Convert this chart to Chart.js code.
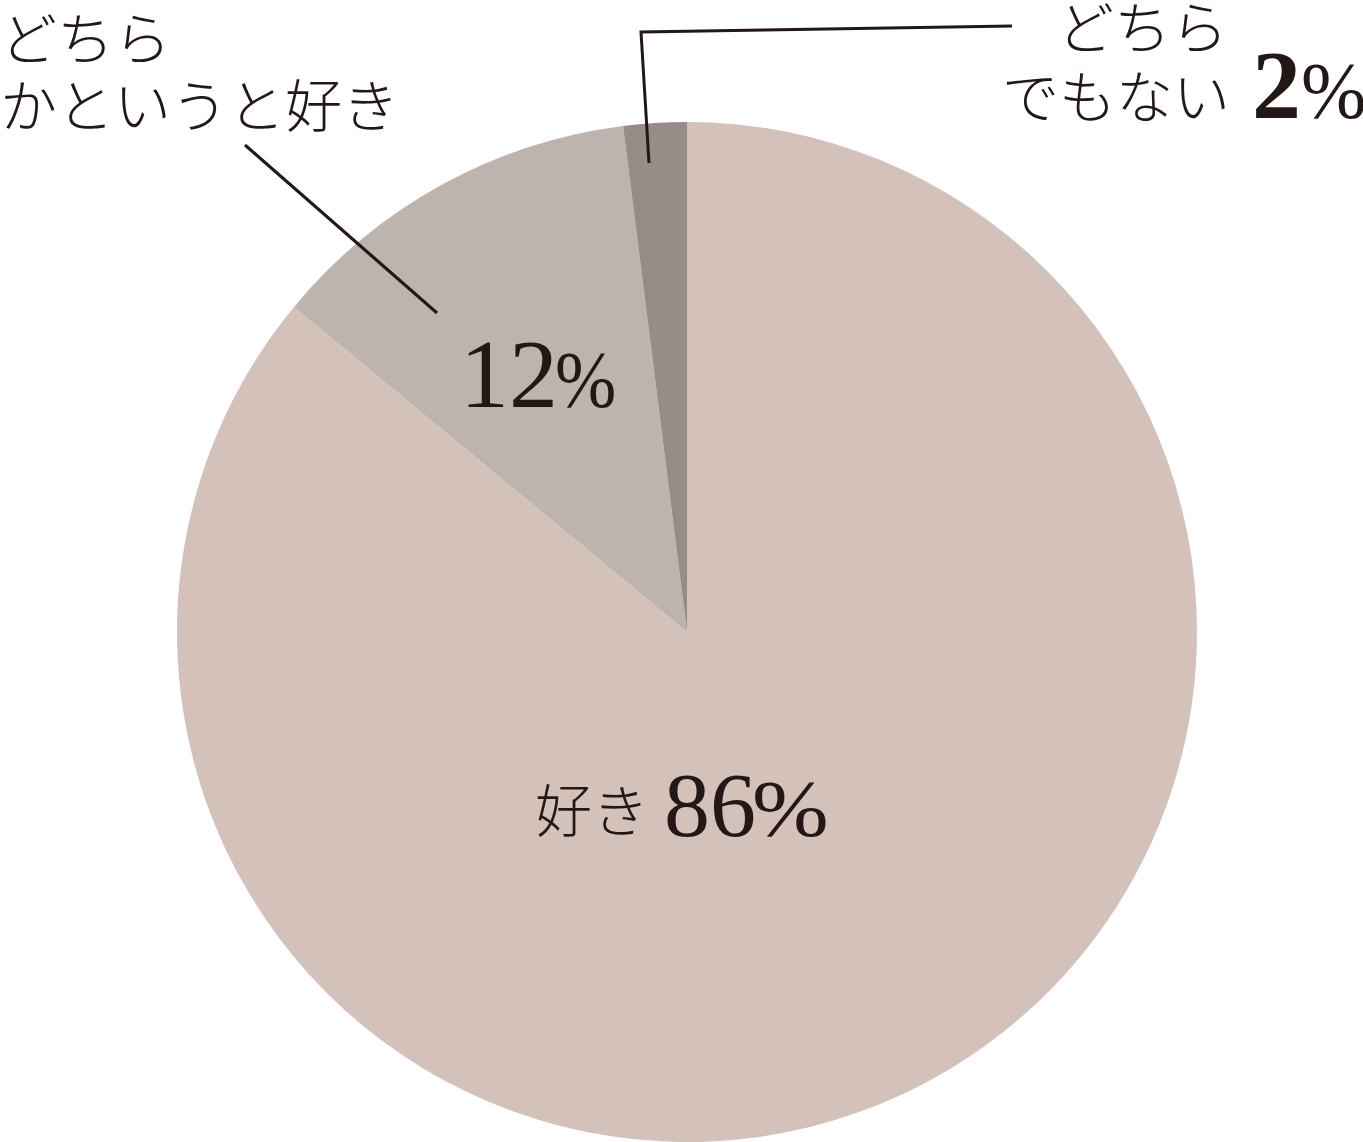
<!DOCTYPE html>
<html>
<head>
<meta charset="utf-8">
<script src="https://cdn.jsdelivr.net/npm/chart.js@4/dist/chart.umd.min.js"></script>
<style>
  html, body { margin: 0; padding: 0; background: #ffffff; }
  #wrap { width: 1363px; height: 1142px; position: relative; }
</style>
</head>
<body>
<div id="wrap"><canvas id="c" width="1363" height="1142"></canvas></div>
<script>
// ---- data ----
const categories = ["好き", "どちらかというと好き", "どちらでもない"];
const values = [86, 12, 2];
const sliceColors = ["#D4C1B9", "#BEB4AE", "#978D88"];

const TEXT = "#231815";
const JP = '"Noto Sans CJK JP", "Noto Sans", sans-serif';
const NUM = '"Liberation Serif", "DejaVu Serif", serif';

function drawNumber(ctx, x, baseline, num, numSize, numWeight, pctSize, pctGap, pctScaleX) {
  ctx.save();
  ctx.textAlign = "left";
  ctx.textBaseline = "alphabetic";
  ctx.font = numWeight + " " + numSize + "px " + NUM;
  ctx.fillText(num, x, baseline);
  const w = ctx.measureText(num).width;
  ctx.font = "normal " + pctSize + "px " + NUM;
  ctx.translate(x + w + pctGap, baseline);
  ctx.scale(pctScaleX, 1);
  ctx.fillText("%", 0, 0);
  ctx.restore();
}

const labelPlugin = {
  id: "labels",
  afterDatasetsDraw(chart) {
    const ctx = chart.ctx;
    ctx.save();
    ctx.fillStyle = TEXT;
    ctx.strokeStyle = TEXT;
    ctx.lineWidth = 3;
    ctx.lineCap = "butt";

    // leader line: どちらかというと好き
    ctx.beginPath();
    ctx.moveTo(245, 145);
    ctx.lineTo(437, 313);
    ctx.stroke();

    // leader line: どちらでもない
    ctx.beginPath();
    ctx.moveTo(649, 163);
    ctx.lineTo(641, 32);
    ctx.lineTo(1012, 26);
    ctx.stroke();

    // top-left label
    ctx.font = "300 57px " + JP;
    ctx.textAlign = "left";
    ctx.textBaseline = "middle";
    ctx.fillText("どちら", 0, 38);
    ctx.fillText("かというと好き", 0, 105);

    // top-right label
    ctx.textAlign = "right";
    ctx.fillText("どちら", 1228, 27);
    ctx.fillText("でもない", 1230, 96);

    // percentages
    drawNumber(ctx, 1252, 118, String(values[2]), 98, "bold", 80, 0, 0.98);
    drawNumber(ctx, 460, 407, String(values[1]), 98, "normal", 80, -3, 0.92);

    // 好き 86%
    ctx.font = "300 57px " + JP;
    ctx.textAlign = "left";
    ctx.textBaseline = "middle";
    ctx.fillText("好き", 535, 810);
    drawNumber(ctx, 664, 836, String(values[0]), 92, "normal", 80, -4, 1.15);

    ctx.restore();
  }
};

new Chart(document.getElementById("c"), {
  type: "pie",
  data: {
    labels: categories,
    datasets: [{
      data: values,
      backgroundColor: sliceColors,
      borderWidth: 0,
      hoverOffset: 0,
      offset: 0
    }]
  },
  options: {
    responsive: false,
    animation: false,
    devicePixelRatio: 1,
    layout: { padding: { left: 177, right: 166, top: 122, bottom: 0 } },
    plugins: {
      legend: { display: false },
      tooltip: { enabled: false }
    },
    events: []
  },
  plugins: [labelPlugin]
});
</script>
</body>
</html>
